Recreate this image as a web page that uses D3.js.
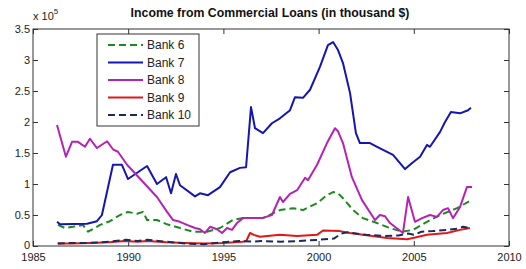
<!DOCTYPE html>
<html><head><meta charset="utf-8">
<script src="https://cdn.jsdelivr.net/npm/d3@7"></script>
<style>
html,body{margin:0;padding:0;background:#fff;}
svg{display:block;font-family:"Liberation Sans",Arial,sans-serif;}
</style></head>
<body><svg id="c" width="526" height="269"></svg>
<script>
// ---- data (values in units of 1e5 thousand $) ----
const bank6Years = [1986.31,1986.68,1987.1,1987.63,1987.89,1988.52,1989.04,1989.57,1989.99,1990.46,1990.78,1990.99,1991.51,1992.04,1992.72,1993.4,1994.14,1994.82,1995.5,1996.03,1997.08,1997.97,1998.66,1999.18,1999.92,2000.44,2000.76,2001.02,2001.28,2001.81,2002.33,2003.07,2003.75,2004.38,2004.96,2005.69,2006.38,2007.27,2007.95];
const bank6Values = [0.34,0.29,0.31,0.34,0.23,0.34,0.40,0.50,0.55,0.52,0.55,0.42,0.42,0.35,0.29,0.23,0.23,0.29,0.42,0.45,0.45,0.58,0.61,0.58,0.69,0.82,0.87,0.85,0.77,0.58,0.45,0.37,0.29,0.23,0.26,0.39,0.50,0.61,0.73];

const bank7Years = [1986.26,1986.42,1987.84,1988.36,1988.62,1989.2,1989.67,1989.99,1990.99,1991.51,1991.99,1992.25,1992.51,1992.72,1993.51,1993.77,1994.19,1994.82,1995.35,1995.87,1996.19,1996.45,1996.66,1997.08,1997.55,1997.97,1998.5,1998.76,1999.18,1999.55,2000.07,2000.49,2000.76,2001.02,2001.28,2001.65,2001.96,2002.17,2002.7,2003.07,2003.91,2004.54,2004.91,2005.33,2005.69,2005.85,2006.38,2006.64,2006.95,2007.43,2007.85,2008.0];
const bank7Values = [0.39,0.35,0.36,0.40,0.50,1.31,1.31,1.08,1.29,1.00,1.11,0.85,1.16,0.98,0.80,0.85,0.82,0.95,1.19,1.26,1.27,2.24,1.90,1.82,1.98,2.06,2.19,2.40,2.39,2.52,2.89,3.24,3.29,3.16,2.95,2.47,1.82,1.66,1.66,1.60,1.47,1.24,1.34,1.44,1.63,1.60,1.84,2.00,2.16,2.14,2.19,2.23];

const bank8Years = [1986.26,1986.73,1987.05,1987.36,1987.73,1987.99,1988.36,1988.89,1989.2,1989.46,1989.94,1991.51,1992.04,1992.35,1992.72,1993.09,1993.51,1993.77,1994.03,1994.3,1994.66,1994.93,1995.19,1995.45,1995.71,1996.03,1996.5,1997.03,1997.55,1997.97,1998.13,1998.5,1998.87,1999.29,1999.44,1999.92,2000.44,2000.86,2001.02,2001.28,2001.75,2002.28,2002.96,2003.22,2003.49,2003.75,2004.43,2004.7,2005.06,2005.43,2005.85,2006.22,2006.53,2006.8,2007.06,2007.43,2007.79,2008.06];
const bank8Values = [1.95,1.44,1.68,1.68,1.60,1.73,1.58,1.69,1.56,1.52,1.31,0.79,0.55,0.42,0.39,0.34,0.29,0.27,0.21,0.31,0.27,0.21,0.29,0.26,0.37,0.45,0.45,0.45,0.50,0.79,0.71,0.84,0.90,1.10,1.06,1.31,1.66,1.90,1.85,1.66,1.11,0.74,0.42,0.50,0.48,0.37,0.21,0.79,0.39,0.45,0.50,0.47,0.58,0.61,0.45,0.63,0.95,0.95];

const bank9Years = [1986.3,1987.0,1988.0,1989.0,1989.8,1990.5,1991.0,1992.0,1993.0,1994.0,1995.0,1996.0,1996.2,1996.4,1996.6,1996.92,1997.97,1998.87,1999.92,2000.23,2001.12,2001.65,2002.33,2003.59,2004.64,2004.96,2005.69,2006.74,2007.43,2007.95];
const bank9Values = [0.04,0.04,0.05,0.06,0.08,0.07,0.08,0.06,0.05,0.04,0.05,0.07,0.08,0.21,0.18,0.15,0.18,0.16,0.18,0.25,0.24,0.21,0.18,0.13,0.11,0.13,0.18,0.21,0.26,0.29];

const bank10Years = [1986.3,1987.0,1988.0,1989.0,1989.9,1990.5,1991.0,1992.0,1993.0,1994.0,1995.0,1995.8,1996.5,1997.0,1998.0,1999.0,2000.0,2000.8,2001.2,2001.5,2002.5,2003.5,2004.2,2004.7,2005.0,2005.4,2006.0,2006.7,2007.3,2007.6,2008.0];
const bank10Values = [0.04,0.05,0.05,0.07,0.10,0.08,0.10,0.07,0.04,0.03,0.06,0.08,0.07,0.08,0.07,0.08,0.10,0.12,0.20,0.22,0.18,0.16,0.17,0.20,0.18,0.23,0.24,0.26,0.28,0.31,0.28];

const seriesNames = ["Bank 6","Bank 7","Bank 8","Bank 9","Bank 10"];
const xTicks = [1985,1990,1995,2000,2005,2010];
const yTicks = [0,0.5,1,1.5,2,2.5,3,3.5];
const yTickLabels = ["0","0.5","1","1.5","2","2.5","3","3.5"];

// ---- layout ----
const L = 33, R = 509, T = 29, B = 246;
const svg = d3.select("#c");
const x = d3.scaleLinear().domain([1985,2010]).range([L,R]);
const y = d3.scaleLinear().domain([0,3.5]).range([B,T]);

const series = [
  {name:seriesNames[0], xs:bank6Years, ys:bank6Values, color:"#1e8a1e", dash:"7,4"},
  {name:seriesNames[1], xs:bank7Years, ys:bank7Values, color:"#1515b0", dash:null},
  {name:seriesNames[2], xs:bank8Years, ys:bank8Values, color:"#b522b5", dash:null},
  {name:seriesNames[3], xs:bank9Years, ys:bank9Values, color:"#e01818", dash:null},
  {name:seriesNames[4], xs:bank10Years, ys:bank10Values, color:"#1a2a60", dash:"7,4"}
];

// axes box
svg.append("rect").attr("x",L).attr("y",T).attr("width",R-L).attr("height",B-T)
  .attr("fill","none").attr("stroke","#333").attr("stroke-width",1);

const tickColor = "#333";
const axB = svg.append("g").attr("transform",`translate(0,${B})`)
  .call(d3.axisBottom(x).tickValues(xTicks).tickFormat(d3.format("d")).tickSizeInner(-5).tickSizeOuter(0).tickPadding(7));
const axT = svg.append("g").attr("transform",`translate(0,${T})`)
  .call(d3.axisTop(x).tickValues(xTicks).tickFormat("").tickSizeInner(-5).tickSizeOuter(0));
const axL = svg.append("g").attr("transform",`translate(${L},0)`)
  .call(d3.axisLeft(y).tickValues(yTicks).tickFormat((d,i)=>yTickLabels[i]).tickSizeInner(-5).tickSizeOuter(0).tickPadding(3));
const axR = svg.append("g").attr("transform",`translate(${R},0)`)
  .call(d3.axisRight(y).tickValues(yTicks).tickFormat("").tickSizeInner(-5).tickSizeOuter(0));
[axB,axT,axL,axR].forEach(a=>{
  a.select(".domain").remove();
  a.selectAll("line").attr("stroke",tickColor);
  a.selectAll("text").attr("font-size",11).attr("fill","#222")
    .attr("font-family","\"Liberation Sans\",Arial,sans-serif");
});
// nudge the "0" label up slightly so it clears the year labels
axL.selectAll(".tick").filter(d=>d===0).select("text").attr("dy","0.2em");

// lines
const line = d3.line().x(d=>x(d[0])).y(d=>y(d[1]));
series.forEach(s=>{
  const pts = s.xs.map((v,i)=>[v,s.ys[i]]);
  const p = svg.append("path").datum(pts).attr("d",line)
    .attr("fill","none").attr("stroke",s.color).attr("stroke-width",2)
    .attr("stroke-linejoin","round");
  if(s.dash) p.attr("stroke-dasharray",s.dash);
});

// title
svg.append("text").attr("x",270).attr("y",17).attr("text-anchor","middle")
  .attr("font-size",12.3).attr("font-weight","bold").attr("fill","#111")
  .text("Income from Commercial Loans (in thousand $)");

// exponent label
const ex = svg.append("text").attr("x",33).attr("y",20).attr("font-size",11).attr("fill","#222");
ex.append("tspan").text("x 10");
ex.append("tspan").attr("dy",-6).attr("font-size",8).text("5");

// legend
const lg = svg.append("g");
lg.append("rect").attr("x",97).attr("y",34).attr("width",102).attr("height",92)
  .attr("fill","#fff").attr("stroke","#333").attr("stroke-width",1);
series.forEach((s,i)=>{
  const yy = 45 + i*17.5;
  const l = lg.append("line").attr("x1",108).attr("x2",143).attr("y1",yy).attr("y2",yy)
    .attr("stroke",s.color).attr("stroke-width",2);
  if(s.dash) l.attr("stroke-dasharray","7,4");
  lg.append("text").attr("x",147).attr("y",yy+4).attr("font-size",12).attr("fill","#222").text(s.name);
});
</script></body></html>
